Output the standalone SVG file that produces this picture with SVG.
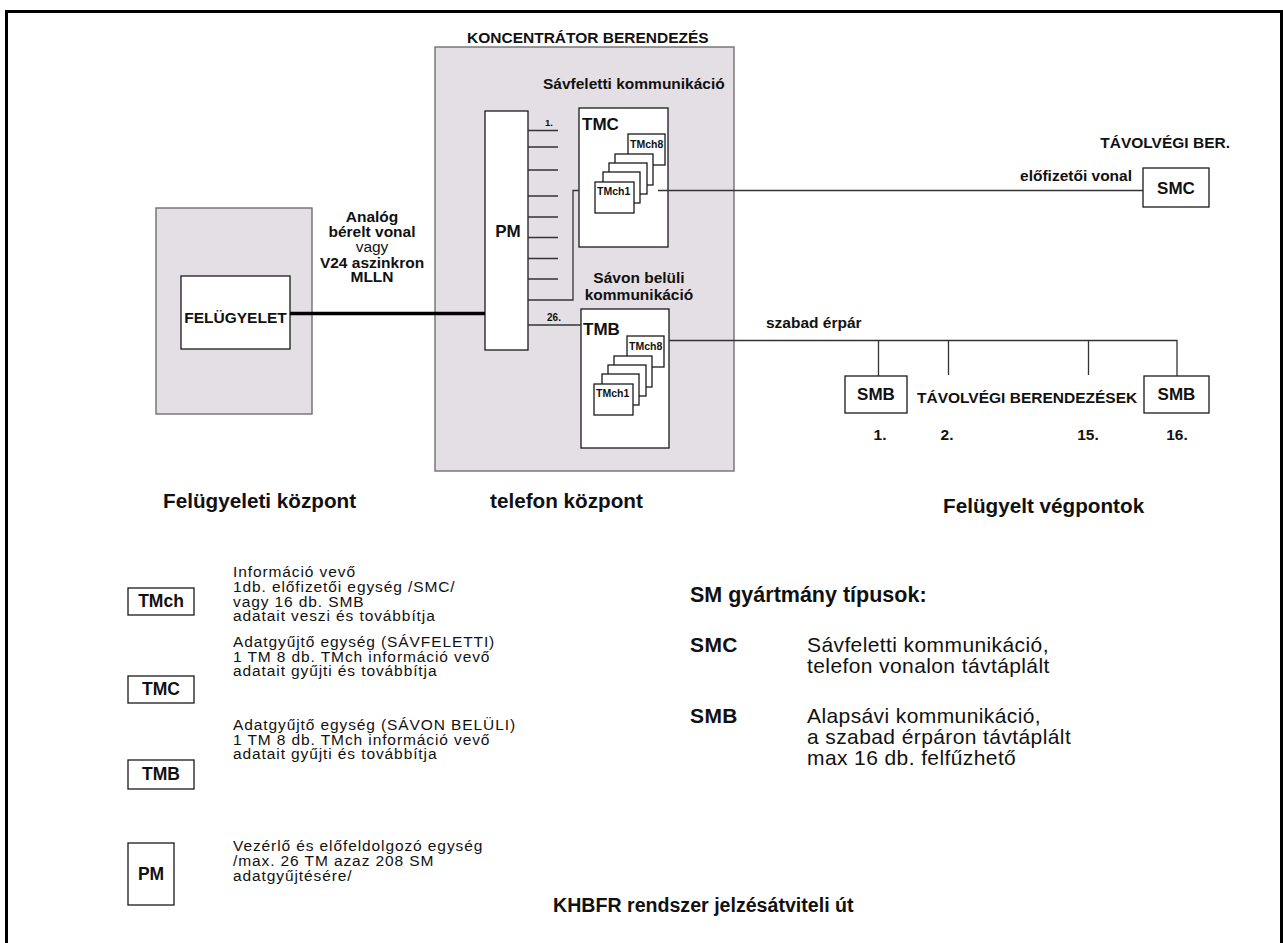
<svg xmlns="http://www.w3.org/2000/svg" width="1283" height="943" viewBox="0 0 1283 943">
<defs>
<style>
.area{fill:#e4dfe5;stroke:#707070;stroke-width:1.4}
.box{fill:#fff;stroke:#1a1a1a;stroke-width:1.3}
.ln{fill:none;stroke:#333;stroke-width:1.3}
.thick{fill:none;stroke:#000;stroke-width:3.5}
.b{font-family:"Liberation Sans",Arial,Helvetica,sans-serif;font-weight:bold;fill:#111}
.r{font-family:"Liberation Sans",Arial,Helvetica,sans-serif;fill:#111}
.s15{font-size:15.5px}
.s17{font-size:17px}
.s17b{font-size:17.5px}
.h{font-size:20.7px}
.s10{font-size:10.5px}
.lg{font-size:15.5px;letter-spacing:0.9px}
.rl{font-size:21px;letter-spacing:0.4px}
.mid{text-anchor:middle}
</style>
<g id="stack">
<rect class="box" x="627" y="336" width="37" height="31"/>
<text class="b s10" x="629" y="350">TMch8</text>
<rect class="box" x="614" y="356" width="38" height="31"/>
<rect class="box" x="608" y="365" width="38" height="31"/>
<rect class="box" x="602" y="374" width="37" height="31"/>
<rect class="box" x="594" y="384" width="39" height="31"/>
<text class="b s10" x="596" y="397">TMch1</text>
</g>
</defs>

<rect id="frame" x="6.5" y="11.5" width="1275" height="940" fill="none" stroke="#000" stroke-width="3"/>

<g id="felugyeleti-kozpont">
<rect class="area" x="156" y="208" width="156" height="206"/>
</g>

<g id="koncentrator">
<rect class="area" x="435" y="47" width="299" height="424"/>
<text class="b s15" x="467" y="42.5">KONCENTRÁTOR BERENDEZÉS</text>
</g>

<g id="felugyelet">
<rect class="box" x="181" y="276" width="109" height="73"/>
<text class="b s15 mid" x="235.5" y="323">FELÜGYELET</text>
</g>

<g id="pm">
<rect class="box" x="485" y="111" width="43" height="239"/>
<text class="b s17 mid" x="508" y="237">PM</text>
</g>

<g id="tmc">
<text class="b s15" x="543" y="89">Sávfeletti kommunikáció</text>
<rect class="box" x="579" y="108" width="89" height="139"/>
<text class="b s17" x="582" y="130">TMC</text>
<use href="#stack" transform="translate(1,-202)"/>
</g>

<g id="tmb">
<text class="b s15 mid" x="639" y="283">Sávon belüli</text>
<text class="b s15 mid" x="639" y="300">kommunikáció</text>
<rect class="box" x="581" y="309" width="88" height="139"/>
<text class="b s17" x="583" y="335">TMB</text>
<use href="#stack"/>
</g>

<g id="smc">
<text class="b s15" x="1230" y="148" text-anchor="end">TÁVOLVÉGI BER.</text>
<rect class="box" x="1143" y="168" width="66" height="39"/>
<text class="b s17 mid" x="1176" y="194">SMC</text>
</g>

<g id="smb-1">
<rect class="box" x="845" y="376" width="62" height="37"/>
<text class="b s17 mid" x="876" y="400">SMB</text>
<text class="b s15 mid" x="880" y="440">1.</text>
</g>
<g id="smb-16">
<rect class="box" x="1144" y="376" width="65" height="37"/>
<text class="b s17 mid" x="1176.5" y="400">SMB</text>
<text class="b s15 mid" x="1177" y="440">16.</text>
</g>
<g id="remote-labels">
<text class="b s15" x="917" y="403">TÁVOLVÉGI BERENDEZÉSEK</text>
<text class="b s15 mid" x="947" y="440">2.</text>
<text class="b s15 mid" x="1088" y="440">15.</text>
</g>

<g id="connectors">
<line class="thick" x1="290" y1="313.5" x2="485" y2="313.5"/>
<path class="ln" d="M528 130.5H558M528 147H558M528 170H558M528 196H558M528 217H558M528 237.5H558M528 258.5H558M528 279H558"/>
<path class="ln" d="M528 300H573V190.5H579"/>
<path class="ln" d="M528 325H581"/>
<path class="ln" d="M658 190.5H1143"/>
<path class="ln" d="M669 340.5H1177V376M878.5 340.5V376M948.5 340.5V375M1088.5 340.5V375"/>
<text class="b" font-size="9.5" x="549" y="126" text-anchor="middle">1.</text>
<text class="b" font-size="10" x="554" y="321" text-anchor="middle">26.</text>
</g>

<g id="line-labels">
<text class="b s15 mid" x="372" y="222">Analóg</text>
<text class="b s15 mid" x="372" y="237">bérelt vonal</text>
<text class="r s15 mid" x="372" y="251.5">vagy</text>
<text class="b s15 mid" x="372" y="267.5">V24 aszinkron</text>
<text class="b s15 mid" x="372" y="282">MLLN</text>
<text class="b s15" x="1132" y="181" text-anchor="end">előfizetői vonal</text>
<text class="b s15" x="766" y="328">szabad érpár</text>
</g>

<g id="headings">
<text class="b h" x="163" y="508">Felügyeleti központ</text>
<text class="b h" x="490" y="508">telefon központ</text>
<text class="b h" x="943" y="513">Felügyelt végpontok</text>
<text class="b" font-size="19.6" x="553" y="912">KHBFR rendszer jelzésátviteli út</text>
</g>

<g id="legend-tmch">
<rect class="box" x="128" y="588" width="66" height="27"/>
<text class="b s17b mid" x="161" y="607">TMch</text>
<text class="r lg" x="233" y="577">Információ vevő</text>
<text class="r lg" x="233" y="592">1db. előfizetői egység /SMC/</text>
<text class="r lg" x="233" y="606.5">vagy 16 db. SMB</text>
<text class="r lg" x="233" y="621">adatait veszi és továbbítja</text>
</g>
<g id="legend-tmc">
<rect class="box" x="128" y="676" width="66" height="27"/>
<text class="b s17b mid" x="161" y="695">TMC</text>
<text class="r lg" x="233" y="646.5">Adatgyűjtő egység (SÁVFELETTI)</text>
<text class="r lg" x="233" y="661.5">1 TM 8 db. TMch információ vevő</text>
<text class="r lg" x="233" y="676">adatait gyűjti és továbbítja</text>
</g>
<g id="legend-tmb">
<rect class="box" x="128" y="760" width="66" height="29"/>
<text class="b s17b mid" x="161" y="780">TMB</text>
<text class="r lg" x="233" y="729.5">Adatgyűjtő egység (SÁVON BELÜLI)</text>
<text class="r lg" x="233" y="744.5">1 TM 8 db. TMch információ vevő</text>
<text class="r lg" x="233" y="759">adatait gyűjti és továbbítja</text>
</g>
<g id="legend-pm">
<rect class="box" x="128" y="843" width="46" height="62"/>
<text class="b s17b mid" x="151" y="880">PM</text>
<text class="r lg" x="233" y="851">Vezérlő és előfeldolgozó egység</text>
<text class="r lg" x="233" y="866">/max. 26 TM azaz 208 SM</text>
<text class="r lg" x="233" y="881">adatgyűjtésére/</text>
</g>

<g id="legend-sm">
<text class="b" font-size="21.5" x="690" y="602">SM gyártmány típusok:</text>
<text class="b rl" x="690" y="652">SMC</text>
<text class="r rl" x="807" y="652">Sávfeletti kommunikáció,</text>
<text class="r rl" x="807" y="673">telefon vonalon távtáplált</text>
<text class="b rl" x="690" y="723">SMB</text>
<text class="r rl" x="807" y="723">Alapsávi kommunikáció,</text>
<text class="r rl" x="807" y="744">a szabad érpáron távtáplált</text>
<text class="r rl" x="807" y="765">max 16 db. felfűzhető</text>
</g>
</svg>
